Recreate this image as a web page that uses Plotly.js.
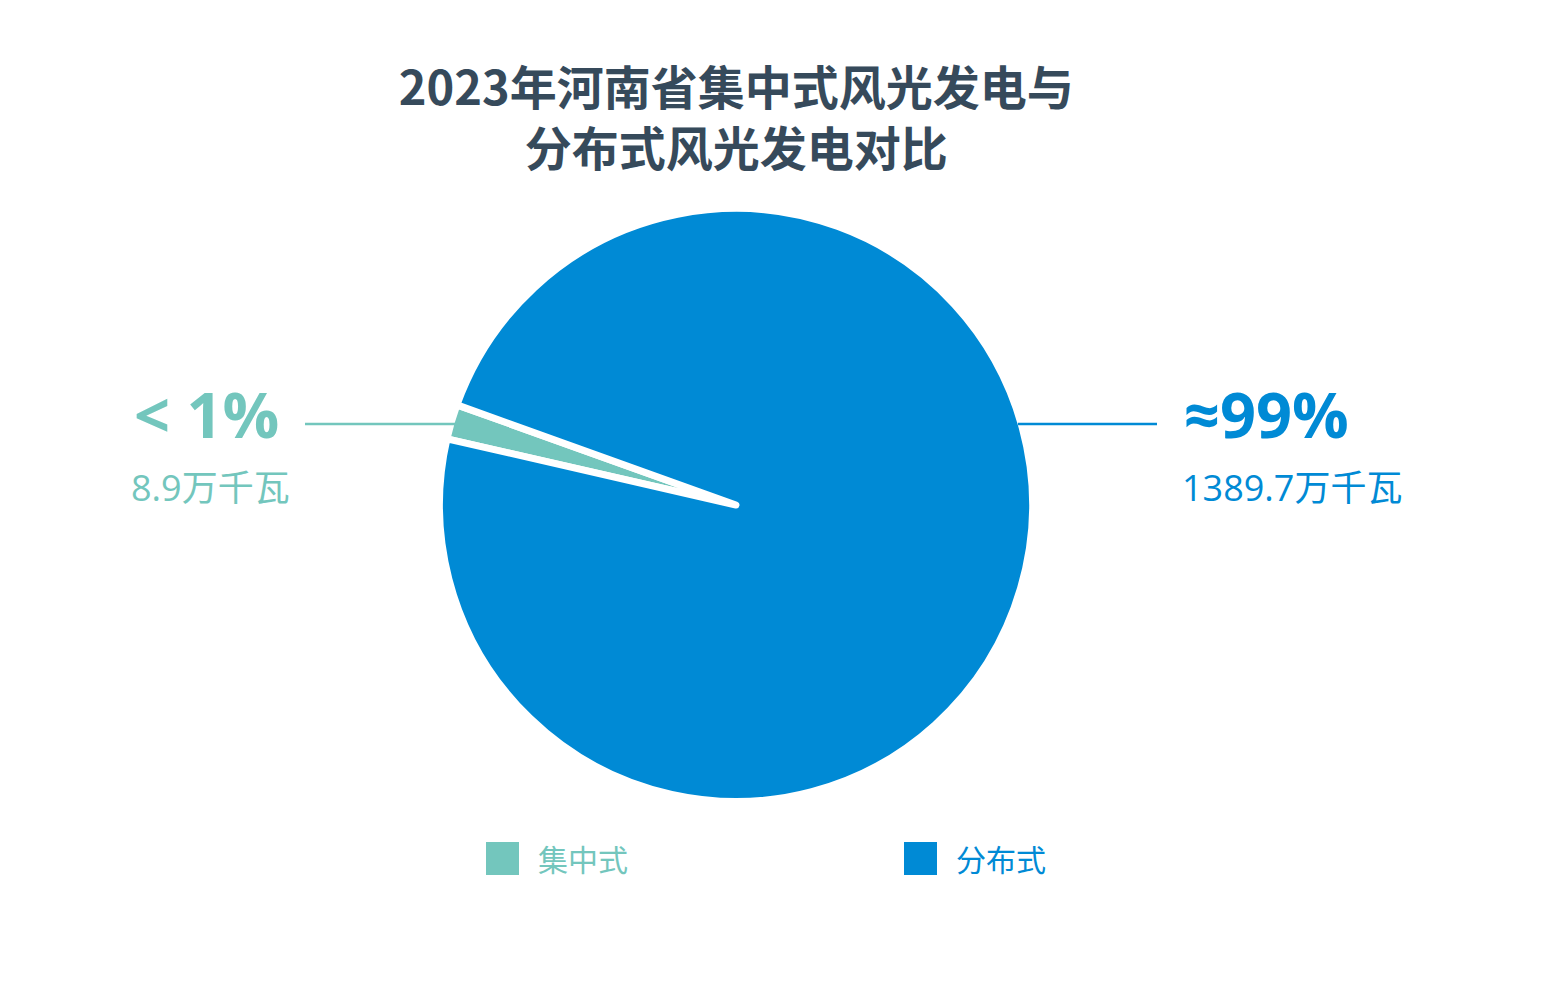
<!DOCTYPE html>
<html>
<head>
<meta charset="utf-8">
<script src="https://cdn.plot.ly/plotly-3.0.1.min.js"></script>
<style>html,body{margin:0;padding:0;background:#fff;}#chart{width:1560px;height:984px;}</style>
</head>
<body>
<div id="chart"></div>
<script>
// ---- data ----
const categories = ['集中式', '分布式'];
const capacityWan = [8.9, 1389.7];          // 万千瓦
const shareLabels = ['< 1%', '≈99%'];
const drawnShare = [1.9, 98.1];             // slice sizes as drawn in the picture (%)
const colors = ['#73C6BD', '#008AD5'];

const W = 1560, H = 984;
const px = x => x / W;
const py = y => 1 - y / H;

const FONT = 'Open Sans, Noto Sans CJK SC, sans-serif';

const trace = {
  type: 'pie',
  labels: categories,
  values: drawnShare,
  sort: false,
  direction: 'clockwise',
  rotation: -77.1,
  textinfo: 'none',
  hoverinfo: 'label+percent',
  marker: { colors: colors, line: { color: '#ffffff', width: 7 } },
  domain: { x: [px(439.5), px(1032.5)], y: [py(801.5), py(208.5)] },
  showlegend: false
};

const annotations = [];
const shapes = [];

// left / right callouts
const callout = [
  { xBig: 132, xSub: 129, lineX: [305, 455] },
  { xBig: 1182, xSub: 1180, lineX: [1018, 1157] }
];
for (let i = 0; i < categories.length; i++) {
  annotations.push({
    xref: 'paper', yref: 'paper', x: px(callout[i].xBig), y: py(414),
    xanchor: 'left', yanchor: 'middle', showarrow: false,
    text: '<b>' + shareLabels[i] + '</b>',
    font: { family: FONT, size: 63, color: colors[i] }
  });
  annotations.push({
    xref: 'paper', yref: 'paper', x: px(callout[i].xSub), y: py(488),
    xanchor: 'left', yanchor: 'middle', showarrow: false,
    text: capacityWan[i] + '万千瓦',
    font: { family: FONT, size: 36, color: colors[i] }
  });
  shapes.push({
    type: 'line', xref: 'paper', yref: 'paper',
    x0: px(callout[i].lineX[0]), x1: px(callout[i].lineX[1]), y0: py(424), y1: py(424),
    line: { color: colors[i], width: 2.5 }
  });
}

// legend
const legendX = [486, 904];
for (let i = 0; i < categories.length; i++) {
  shapes.push({
    type: 'rect', xref: 'paper', yref: 'paper',
    x0: px(legendX[i]), x1: px(legendX[i] + 33), y0: py(875), y1: py(842),
    fillcolor: colors[i], line: { width: 0 }
  });
  annotations.push({
    xref: 'paper', yref: 'paper', x: px(legendX[i] + 50), y: py(858),
    xanchor: 'left', yanchor: 'middle', showarrow: false,
    text: categories[i],
    font: { family: 'Noto Sans CJK SC, sans-serif', size: 30, color: colors[i] }
  });
}

const layout = {
  width: W, height: H,
  margin: { l: 0, r: 0, t: 0, b: 0 },
  paper_bgcolor: '#ffffff',
  plot_bgcolor: '#ffffff',
  title: {
    text: '2023年河南省集中式风光发电与<br>分布式风光发电对比',
    font: { family: 'Noto Sans CJK SC, sans-serif', size: 47, color: '#364A5B', weight: 'bold' },
    x: 0.472, xanchor: 'center',
    y: py(105), yanchor: 'middle', yref: 'container'
  },
  annotations: annotations,
  shapes: shapes,
  showlegend: false
};

Plotly.newPlot('chart', [trace], layout, { displayModeBar: false, staticPlot: true });
</script>
</body>
</html>
